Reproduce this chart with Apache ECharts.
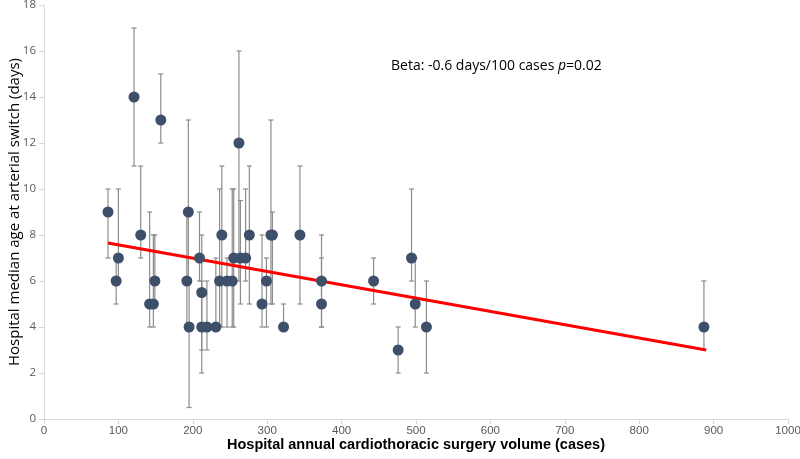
<!DOCTYPE html>
<html>
<head>
<meta charset="utf-8">
<script src="https://cdn.jsdelivr.net/npm/echarts@6/dist/echarts.min.js"></script>
<style>html,body{margin:0;padding:0;background:#fff}#c{width:800px;height:459px}</style>
</head>
<body>
<div id="c"></div>
<script>
// Hospital annual volume (cases)
var volume = [86, 97, 100, 121, 130, 142, 147, 149, 157, 192, 194, 195, 209, 212, 212, 219, 231, 236, 239, 246, 253, 255, 262, 264, 271, 276, 293, 299, 305, 307, 322, 344, 373, 373, 443, 476, 494, 499, 514, 887];
// Median age (days)
var medianAge = [9, 6, 7, 14, 8, 5, 5, 6, 13, 6, 9, 4, 7, 5.5, 4, 4, 4, 6, 8, 6, 6, 7, 12, 7, 7, 8, 5, 6, 8, 8, 4, 8, 6, 5, 6, 3, 7, 5, 4, 4];
// Error bar lower / upper (days)
var lowAge = [7, 5, 6, 11, 7, 4, 4, 5, 12, 4, 6, 0.5, 6, 2, 3, 3, 4, 4, 4, 4, 4, 4, 6, 5, 6, 5, 4, 4, 5, 5, 4, 5, 4, 4, 5, 2, 6, 4, 2, 3];
var highAge = [10, 7, 10, 17, 11, 9, 8, 8, 15, 9, 13, 6, 9, 8, 6, 6, 7, 10, 11, 7, 10, 10, 16, 9.5, 10, 11, 8, 7, 13, 9, 5, 11, 8, 7, 7, 4, 10, 7, 6, 6];
// Regression line endpoints
var regX = [86, 890];
var regY = [7.65, 3.0];
var xTicks = [0, 1000, 100];
var yTicks = [0, 18, 2];
var annotation = 'Beta: -0.6 days/100 cases ';

var pts = volume.map(function (v, i) { return [v, medianAge[i]]; });
var errs = volume.map(function (v, i) { return [v, lowAge[i], highAge[i]]; });
var reg = regX.map(function (v, i) { return [v, regY[i]]; });

var chart = echarts.init(document.getElementById('c'), null, {renderer: 'canvas'});
var labelFont = 'Liberation Sans, Arial, sans-serif';
chart.setOption({
  animation: false,
  grid: {left: 44, right: 12, top: 5, bottom: 40, containLabel: false, outerBoundsMode: 'none'},
  xAxis: {
    type: 'value', min: xTicks[0], max: xTicks[1], interval: xTicks[2],
    name: 'Hospital annual cardiothoracic surgery volume (cases)',
    nameLocation: 'middle', nameGap: 18, nameMoveOverlap: false,
    nameTextStyle: {fontFamily: labelFont, fontWeight: 'bold', fontSize: 14.5, color: '#000', verticalAlign: 'top'},
    axisLine: {lineStyle: {color: '#d9d9d9', width: 1}},
    axisTick: {show: true, length: 5, lineStyle: {color: '#d9d9d9'}},
    axisLabel: {fontFamily: labelFont, fontSize: 11.5, color: '#595959', margin: 6,
      formatter: function (v) { return String(v); }},
    splitLine: {show: false}
  },
  yAxis: {
    type: 'value', min: yTicks[0], max: yTicks[1], interval: yTicks[2],
    name: 'Hospital median age at arterial switch (days)',
    nameLocation: 'middle', nameGap: 29, nameRotate: 90, nameMoveOverlap: false,
    nameTextStyle: {fontFamily: 'Open Sans, Liberation Sans, sans-serif', fontSize: 15, color: '#000', verticalAlign: 'middle'},
    axisLine: {show: true, lineStyle: {color: '#d9d9d9', width: 1}},
    axisTick: {show: true, length: 5, lineStyle: {color: '#d9d9d9'}},
    axisLabel: {fontFamily: 'Open Sans, Liberation Sans, sans-serif', fontSize: 11.5, color: '#595959', margin: 8,
      formatter: function (v) { return String(v); }},
    splitLine: {show: false}
  },
  series: [
    {
      type: 'custom',
      data: errs,
      z: 2,
      renderItem: function (params, api) {
        var x = api.value(0);
        var lo = api.coord([x, api.value(1)]);
        var hi = api.coord([x, api.value(2)]);
        var w = 2.5;
        var st = {stroke: '#8c8c8c', lineWidth: 1.2};
        return {
          type: 'group',
          children: [
            {type: 'line', shape: {x1: lo[0], y1: lo[1], x2: hi[0], y2: hi[1]}, style: st},
            {type: 'line', shape: {x1: lo[0] - w, y1: lo[1], x2: lo[0] + w, y2: lo[1]}, style: st},
            {type: 'line', shape: {x1: hi[0] - w, y1: hi[1], x2: hi[0] + w, y2: hi[1]}, style: st}
          ]
        };
      }
    },
    {
      type: 'line',
      data: reg,
      z: 4,
      symbol: 'none',
      lineStyle: {color: '#ff0000', width: 3}
    },
    {
      type: 'scatter',
      data: pts,
      z: 5,
      symbol: 'circle',
      symbolSize: 11,
      itemStyle: {color: '#3e4f6a', opacity: 1}
    }
  ],
  graphic: [{
    type: 'text',
    left: 391, top: 59,
    style: {
      rich: {
        a: {fontFamily: 'Open Sans, Liberation Sans, sans-serif', fontSize: 14, fill: '#000'},
        b: {fontFamily: 'Open Sans, Liberation Sans, sans-serif', fontSize: 14, fill: '#000', fontStyle: 'italic'}
      },
      text: '{a|' + annotation + '}{b|p}{a|=0.02}'
    }
  }]
});
</script>
</body>
</html>
